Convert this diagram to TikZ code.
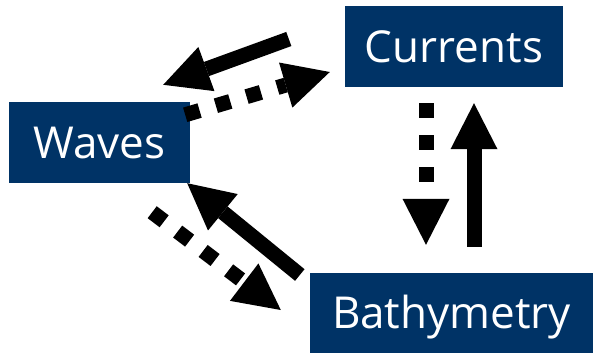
\documentclass[tikz,border=0pt]{standalone}
\usepackage{fontspec}
\setmainfont{Open Sans}
\usetikzlibrary{arrows.meta,calc}
\definecolor{navy}{RGB}{0,51,102}
\tikzset{
    box/.style={fill=navy, text=white, font=\fontsize{44}{44}\selectfont,
        minimum height=81pt, text height=31pt, text depth=0pt, inner sep=0pt},
    flow/.style={line width=15pt,
        -{Triangle[length=46pt,width=47pt,line width=0pt]}},
    dotflow/.style={flow, dash pattern=on 15pt off 17pt},
}
\begin{document}
\begin{tikzpicture}[x=1pt,y=-1pt]
            \useasboundingbox (0,0) rectangle (596,354);

            % Boxes
            \node[box, minimum width=218pt] (currents) at (454,46.5) {Currents};
            \node[box, minimum width=181pt] (waves) at (99.5,142.5) {Waves};
            \node[box, minimum width=283pt, minimum height=80pt] (bathy) at (451.5,313) {Bathymetry};

            % Waves <-> Currents
            \draw[flow] ($(currents.west)+(-56,-7.5)$) -- ($(waves.north east)+(-27,-17)$);
            \draw[dotflow] ($(waves.north east)+(-5,13)$) -- ($(currents.west)+(-15,25.5)$);

            % Waves <-> Bathymetry
            \draw[dotflow] ($(waves.south east)+(-38,29)$) -- ($(bathy.west)+(-29,-3)$);
            \draw[flow] ($(bathy.west)+(-10,-38)$) -- ($(waves.south east)+(-3,0)$);

            % Currents <-> Bathymetry
            \draw[dotflow] ($(currents.south)+(-28,16)$) -- ($(bathy.north)+(-25.5,-28)$);
            \draw[flow] ($(bathy.north)+(22.5,-26)$) -- ($(currents.south)+(20,16)$);

\end{tikzpicture}
\end{document}
